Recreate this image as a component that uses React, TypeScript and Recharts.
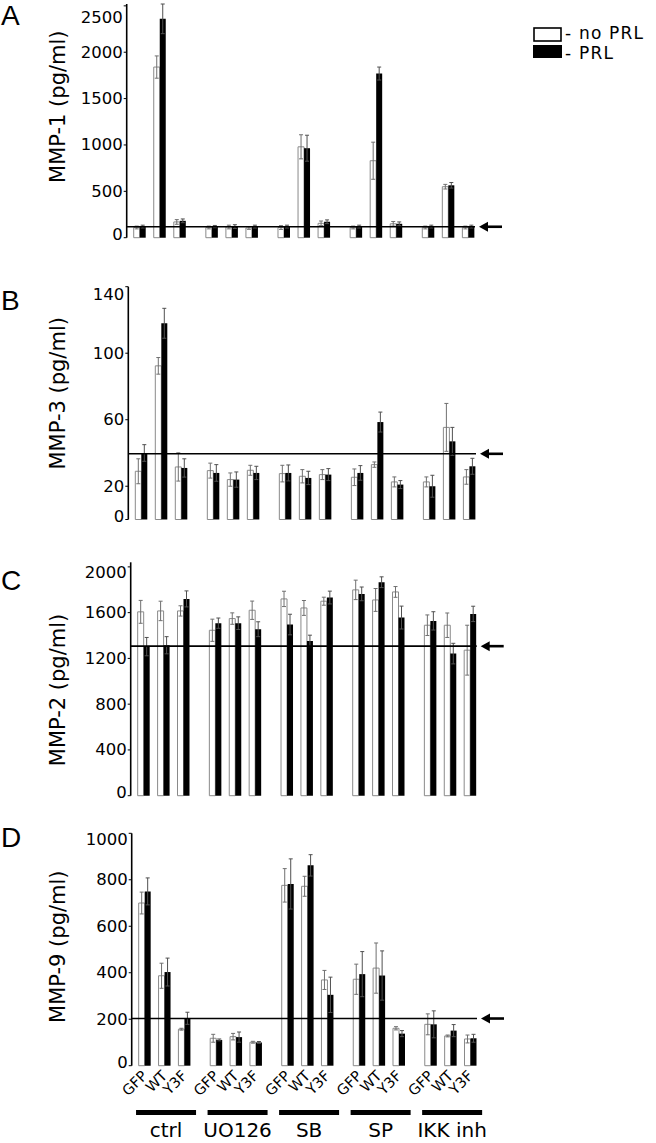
import React from "react";
import { BarChart, Bar, XAxis, YAxis, ErrorBar, ReferenceLine, LabelList } from "recharts";

const FONT = "'DejaVu Sans', Verdana, sans-serif";

const treatments = ["ctrl", "UO126", "SB", "SP", "IKK inh"];
const constructs = ["GFP", "WT", "Y3F"];

// MMP-1 (panel A)
const mmp1NoPrl = [110, 1840, 170, 110, 115, 105, 110, 980, 155, 110, 830, 150, 110, 550, 110];
const mmp1NoPrlErr = [15, 120, 25, 15, 20, 15, 20, 130, 25, 15, 200, 25, 15, 25, 15];
const mmp1Prl = [120, 2360, 182, 120, 120, 120, 120, 965, 172, 120, 1770, 150, 120, 565, 120];
const mmp1PrlErr = [15, 160, 20, 12, 20, 15, 15, 140, 20, 15, 70, 20, 15, 30, 15];

// MMP-3 (panel B)
const mmp3NoPrl = [29, 92.4, 31.6, 29.4, 24, 29.6, 27.6, 26, 27, 25.4, 33, 22.6, 22.6, 55.4, 25.6];
const mmp3NoPrlErr = [7.5, 5, 8.5, 4.5, 4, 3, 5, 4, 3, 5, 1.6, 3, 3, 14.4, 4.4];
const mmp3Prl = [40, 118, 31, 28, 24, 28, 28, 25, 27, 28, 58.6, 21, 20, 47, 32];
const mmp3PrlErr = [5, 9, 5.5, 5, 4.6, 4, 4.8, 4, 3.6, 4.4, 6, 2.4, 6.6, 8.4, 4.8];

// MMP-2 (panel C)
const mmp2NoPrl = [1607, 1615, 1615, 1446, 1548, 1621, 1720, 1641, 1700, 1799, 1711, 1781, 1490, 1490, 1272];
const mmp2NoPrlErr = [100, 85, 45, 97, 50, 80, 67, 65, 35, 85, 100, 47, 90, 107, 218];
const mmp2Prl = [1303, 1315, 1720, 1508, 1508, 1455, 1496, 1353, 1732, 1764, 1866, 1557, 1528, 1242, 1589];
const mmp2PrlErr = [80, 75, 70, 45, 55, 65, 90, 50, 56, 60, 47, 100, 80, 90, 67];

// MMP-9 (panel D)
const mmp9NoPrl = [700, 387, 157, 118, 125, 101, 776, 772, 369, 372, 420, 161, 178, 128, 115];
const mmp9NoPrlErr = [47, 54, 4, 17, 14, 4, 72, 43, 41, 65, 108, 7, 45, 4, 17];
const mmp9Prl = [750, 403, 204, 111, 123, 100, 782, 862, 305, 394, 388, 138, 178, 151, 118];
const mmp9PrlErr = [58, 60, 26, 4, 22, 4, 108, 46, 76, 97, 106, 13, 58, 26, 17];

const refLevels = [118, 39.5, 1307, 203];

const GROUP_STEP = 3.6;
const X_DOMAIN: [number, number] = [-0.65, 16.73];
const markTicks = Array.from(
  { length: 27 },
  (_, i) => X_DOMAIN[0] + (i * (X_DOMAIN[1] - X_DOMAIN[0])) / 26
);

function buildRows(noPrl: number[], noPrlErr: number[], prl: number[], prlErr: number[]) {
  return noPrl.map((v, i) => ({
    x: Math.floor(i / 3) * GROUP_STEP + (i % 3),
    construct: constructs[i % 3],
    noPrl: v,
    noPrlErr: noPrlErr[i],
    prl: prl[i],
    prlErr: prlErr[i],
  }));
}

const ArrowLine = (p: any) => {
  const { x1, y1, x2, y2 } = p;
  return (
    <g>
      <line x1={x1} y1={y1} x2={x2} y2={y2} stroke="#000" strokeWidth={1.6} />
      <line x1={x2 + 10} y1={y2} x2={x2 + 27} y2={y2} stroke="#000" strokeWidth={2.6} />
      <path d={`M${x2 + 4},${y2} L${x2 + 13},${y2 - 5} L${x2 + 13},${y2 + 5} Z`} fill="#000" />
    </g>
  );
};

const makeYTick = (max: number, shift: number) => (props: any) => {
  const { x, y, payload } = props;
  const dy = payload.value === max ? shift : payload.value === 0 ? -3 : 0;
  return (
    <text x={x} y={y + dy} textAnchor="end" dominantBaseline="central" fontSize={16.5} fontFamily={FONT} fill="#000">
      {payload.value}
    </text>
  );
};

// construct names under each bar pair, plus treatment bars + names under each group
const BottomLabel = (props: any) => {
  const vb = props.viewBox ?? props;
  const x = Number(vb.x);
  const w = Number(vb.width);
  const bottom = Number(vb.y) + Number(vb.height);
  const index = props.index ?? 0;
  const cx = x + w;
  return (
    <g>
      <text
        transform={`translate(${cx + 3.5},${bottom + 11}) rotate(-45)`}
        textAnchor="end"
        fontSize={14.5}
        fontFamily={FONT}
        fill="#000"
      >
        {constructs[index % 3]}
      </text>
      {index % 3 === 1 && (
        <g>
          <rect x={cx - 28.5} y={bottom + 44.3} width={60} height={5} fill="#000" />
          <text x={cx + 1.5} y={bottom + 71} textAnchor="middle" fontSize={20} fontFamily={FONT} fill="#000">
            {treatments[Math.floor(index / 3)]}
          </text>
        </g>
      )}
    </g>
  );
};

type PanelProps = {
  top: number;
  height: number;
  x0: number;
  x1: number;
  plotTop: number;
  plotBottom: number;
  rows: ReturnType<typeof buildRows>;
  yDomain: [number, number];
  yTicks: number[];
  topShift: number;
  title: string;
  titleY: number;
  letter: string;
  letterY: number;
  refValue: number;
  bottomLabels?: boolean;
  legend?: boolean;
};

function Panel(p: PanelProps) {
  const width = 656;
  const yWidth = 60;
  return (
    <div style={{ position: "absolute", left: 0, top: p.top }}>
      <BarChart
        width={width}
        height={p.height}
        data={p.rows}
        barGap={0}
        margin={{
          top: p.plotTop,
          bottom: p.height - p.plotBottom,
          left: p.x0 - yWidth,
          right: width - p.x1,
        }}
      >
        <XAxis
          xAxisId="marks"
          dataKey="x"
          type="number"
          domain={X_DOMAIN}
          ticks={markTicks}
          interval={0}
          tick={false}
          tickSize={3}
          height={0}
          axisLine={{ stroke: "#000", strokeWidth: 1.6 }}
          tickLine={{ stroke: "#000" }}
        />
        <YAxis
          width={yWidth}
          domain={p.yDomain}
          ticks={p.yTicks}
          interval={0}
          tickSize={3}
          tickMargin={1}
          tick={makeYTick(p.yTicks[p.yTicks.length - 1], p.topShift)}
          axisLine={{ stroke: "#000", strokeWidth: 1.6 }}
          tickLine={{ stroke: "#000" }}
        />
        <Bar
          xAxisId="marks"
          dataKey="noPrl"
          barSize={6}
          fill="#fff"
          stroke="#8a8a8a"
          strokeWidth={1}
          isAnimationActive={false}
        >
          <ErrorBar dataKey="noPrlErr" direction="y" width={2} stroke="#707070" strokeWidth={1} />
          {p.bottomLabels && <LabelList dataKey="construct" content={BottomLabel} />}
        </Bar>
        <Bar xAxisId="marks" dataKey="prl" barSize={6} fill="#000" isAnimationActive={false}>
          <ErrorBar dataKey="prlErr" direction="y" width={2} stroke="#505050" strokeWidth={1} />
        </Bar>
        <ReferenceLine xAxisId="marks" y={p.refValue} shape={ArrowLine} ifOverflow="visible" />
        <text
          transform={`translate(58.3,${p.titleY}) rotate(-90)`}
          textAnchor="middle"
          dominantBaseline="central"
          fontSize={21}
          fontFamily={FONT}
          fill="#000"
        >
          {p.title}
        </text>
        <text x={1} y={p.letterY} fontSize={28} fontFamily="'Liberation Sans', Arial, sans-serif" fill="#000">
          {p.letter}
        </text>
        {p.legend && (
          <g>
            <rect x={534} y={28} width={27} height={13} fill="#fff" stroke="#000" strokeWidth={1.6} />
            <text x={565} y={33} dominantBaseline="central" fontSize={17} letterSpacing={1.2} fontFamily={FONT} fill="#000">
              - no PRL
            </text>
            <rect x={533} y={45} width={29} height={13} fill="#000" />
            <text x={565} y={53} dominantBaseline="central" fontSize={17} letterSpacing={1.2} fontFamily={FONT} fill="#000">
              - PRL
            </text>
          </g>
        )}
      </BarChart>
    </div>
  );
}

export default function App() {
  return (
    <div style={{ position: "absolute", left: 0, top: 0, width: 656, height: 1143, background: "#fff" }}>
      <Panel
        top={0}
        height={280}
        x0={126.7}
        x1={475}
        plotTop={4}
        plotBottom={237.7}
        rows={buildRows(mmp1NoPrl, mmp1NoPrlErr, mmp1Prl, mmp1PrlErr)}
        yDomain={[0, 2500]}
        yTicks={[0, 500, 1000, 1500, 2000, 2500]}
        topShift={12}
        title="MMP-1 (pg/ml)"
        titleY={106.7}
        letter="A"
        letterY={25}
        refValue={refLevels[0]}
        legend
      />
      <Panel
        top={250}
        height={290}
        x0={128.3}
        x1={476}
        plotTop={36.7}
        plotBottom={269.5}
        rows={buildRows(mmp3NoPrl, mmp3NoPrlErr, mmp3Prl, mmp3PrlErr)}
        yDomain={[0, 140]}
        yTicks={[0, 20, 60, 100, 140]}
        topShift={8}
        title="MMP-3 (pg/ml)"
        titleY={143.3}
        letter="B"
        letterY={60}
        refValue={refLevels[1]}
      />
      <Panel
        top={530}
        height={290}
        x0={130.7}
        x1={476.7}
        plotTop={32.3}
        plotBottom={265.7}
        rows={buildRows(mmp2NoPrl, mmp2NoPrlErr, mmp2Prl, mmp2PrlErr)}
        yDomain={[0, 2040]}
        yTicks={[0, 400, 800, 1200, 1600, 2000]}
        topShift={6}
        title="MMP-2 (pg/ml)"
        titleY={160}
        letter="C"
        letterY={60}
        refValue={refLevels[2]}
      />
      <Panel
        top={820}
        height={323}
        x0={131.7}
        x1={477}
        plotTop={13.3}
        plotBottom={245.7}
        rows={buildRows(mmp9NoPrl, mmp9NoPrlErr, mmp9Prl, mmp9PrlErr)}
        yDomain={[0, 1000]}
        yTicks={[0, 200, 400, 600, 800, 1000]}
        topShift={6}
        title="MMP-9 (pg/ml)"
        titleY={126.7}
        letter="D"
        letterY={26.7}
        refValue={refLevels[3]}
        bottomLabels
      />
    </div>
  );
}
